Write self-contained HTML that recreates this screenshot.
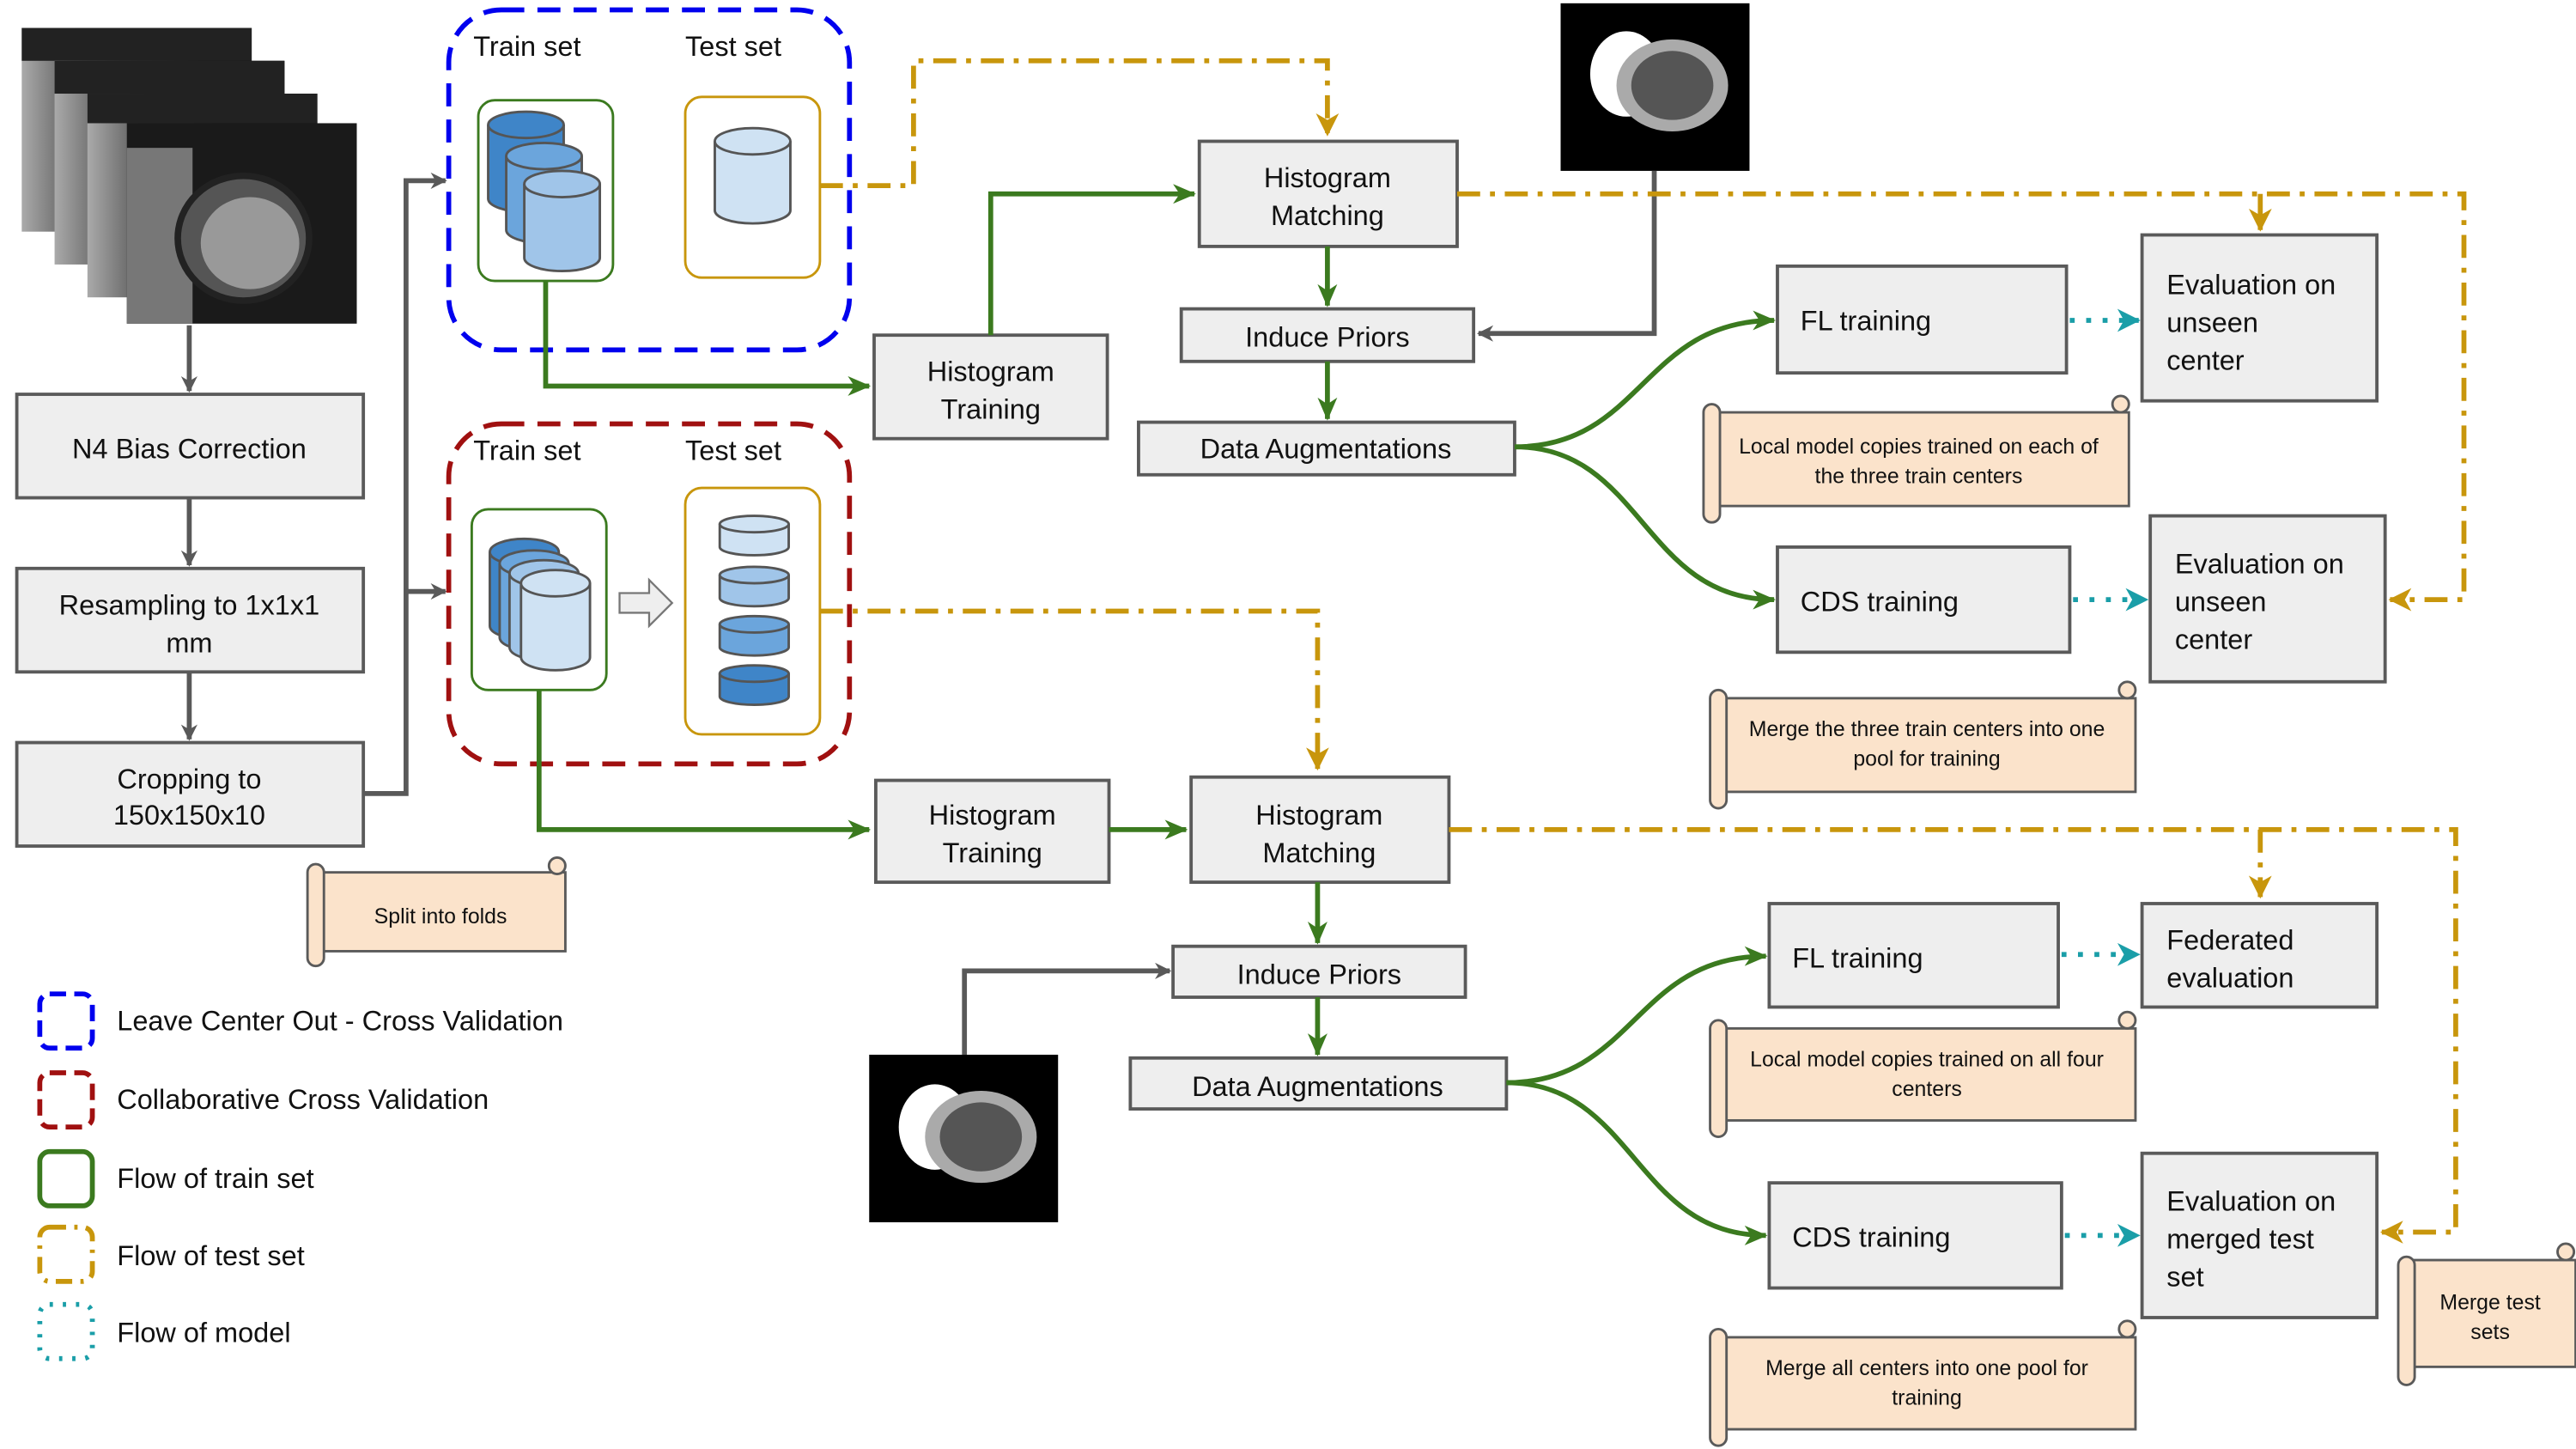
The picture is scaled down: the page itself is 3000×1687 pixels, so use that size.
<!DOCTYPE html>
<html><head><meta charset="utf-8"><style>
html,body{margin:0;padding:0;background:#fff;}
svg{display:block;}
text{font-family:"Liberation Sans",sans-serif;fill:#111;}
</style></head><body>
<svg width="3000" height="1687" viewBox="0 0 1568 882" xmlns="http://www.w3.org/2000/svg">
<defs>
<marker id="ag" markerWidth="10" markerHeight="10" refX="9" refY="5" orient="auto" markerUnits="userSpaceOnUse"><path d="M0,0 L10,5 L0,10 L3,5Z" fill="#595959"/></marker>
<marker id="agr" markerWidth="14" markerHeight="12" refX="13" refY="6" orient="auto" markerUnits="userSpaceOnUse"><path d="M0,0 L14,6 L0,12 L4,6Z" fill="#3b7a1f"/></marker>
<marker id="ay" markerWidth="14" markerHeight="14" refX="13" refY="7" orient="auto" markerUnits="userSpaceOnUse"><path d="M0,0 L14,7 L0,14 L4,7Z" fill="#c8960c"/></marker>
<marker id="at" markerWidth="14" markerHeight="14" refX="13" refY="7" orient="auto" markerUnits="userSpaceOnUse"><path d="M0,0 L14,7 L0,14 L4,7Z" fill="#1a9ea8"/></marker>
<linearGradient id="mri" x1="0" y1="0" x2="1" y2="0"><stop offset="0" stop-color="#aaa"/><stop offset="0.25" stop-color="#555"/><stop offset="0.6" stop-color="#222"/><stop offset="1" stop-color="#111"/></linearGradient>
</defs>
<style>
.box{fill:#eeeeee;stroke:#5a5a5a;stroke-width:2;}
.bt{font-size:17px;text-anchor:middle;}
.lt{font-size:17px;}
.nt{font-size:13px;text-anchor:middle;}
.g{stroke:#595959;stroke-width:3;fill:none;}
.gr{stroke:#3b7a1f;stroke-width:3;fill:none;}
.y{stroke:#c8960c;stroke-width:3;fill:none;stroke-dasharray:14,6,3,6;}
.t{stroke:#1a9ea8;stroke-width:3;fill:none;stroke-dasharray:3,7;}
.sc{fill:#fbe3cb;stroke:#5a5a5a;stroke-width:1.5;}
.cyl{stroke:#555;stroke-width:1.5;}
</style>

<!-- MRI stack -->
<rect x="13" y="17" width="140" height="124" fill="url(#mri)"/>
<rect x="13" y="17" width="140" height="20" fill="#222"/>
<rect x="33" y="37" width="140" height="124" fill="url(#mri)"/>
<rect x="33" y="37" width="140" height="20" fill="#222"/>
<rect x="53" y="57" width="140" height="124" fill="url(#mri)"/>
<rect x="53" y="57" width="140" height="18" fill="#222"/>
<rect x="77" y="75" width="140" height="122" fill="#1a1a1a"/>
<rect x="77" y="90" width="40" height="107" fill="#777"/>
<ellipse cx="148" cy="145" rx="40" ry="38" fill="#555" stroke="#222" stroke-width="4"/>
<ellipse cx="152" cy="148" rx="30" ry="28" fill="#999"/>

<!-- left column -->
<rect class="box" x="10" y="240" width="211" height="63"/><text class="bt" x="115" y="279">N4 Bias Correction</text>
<rect class="box" x="10" y="346" width="211" height="63"/><text class="bt" x="115" y="374">Resampling to 1x1x1</text><text class="bt" x="115" y="397">mm</text>
<rect class="box" x="10" y="452" width="211" height="63"/><text class="bt" x="115" y="480">Cropping to</text><text class="bt" x="115" y="502">150x150x10</text>
<line class="g" x1="115" y1="198" x2="115" y2="238" marker-end="url(#ag)"/>
<line class="g" x1="115" y1="303" x2="115" y2="344" marker-end="url(#ag)"/>
<line class="g" x1="115" y1="409" x2="115" y2="450" marker-end="url(#ag)"/>
<polyline class="g" points="221,483 247,483 247,110 271,110" marker-end="url(#ag)"/>
<line class="g" x1="247" y1="360" x2="271" y2="360" marker-end="url(#ag)"/>

<!-- Blue group -->
<rect x="273" y="6" width="244" height="207" rx="32" fill="none" stroke="#0000ee" stroke-width="3" stroke-dasharray="14,8"/>
<text class="lt" x="288" y="34">Train set</text><text class="lt" x="417" y="34">Test set</text>
<rect x="291" y="61" width="82" height="110" rx="10" fill="#fff" stroke="#3b7a1f" stroke-width="1.5"/>
<g class="cyl">
<path d="M297,76 v45 a23,8 0 0 0 46,0 v-45" fill="#3f85c8"/><ellipse cx="320" cy="76" rx="23" ry="8" fill="#3f85c8"/>
<path d="M308,95 v45 a23,8 0 0 0 46,0 v-45" fill="#6ba5dc"/><ellipse cx="331" cy="95" rx="23" ry="8" fill="#6ba5dc"/>
<path d="M319,112 v45 a23,8 0 0 0 46,0 v-45" fill="#a0c5e9"/><ellipse cx="342" cy="112" rx="23" ry="8" fill="#a0c5e9"/>
</g>
<rect x="417" y="59" width="82" height="110" rx="10" fill="#fff" stroke="#c8960c" stroke-width="1.5"/>
<g class="cyl"><path d="M435,86 v42 a23,8 0 0 0 46,0 v-42" fill="#cfe2f3"/><ellipse cx="458" cy="86" rx="23" ry="8" fill="#cfe2f3"/></g>

<!-- Red group -->
<rect x="273" y="258" width="244" height="207" rx="32" fill="none" stroke="#a01010" stroke-width="3" stroke-dasharray="14,8"/>
<text class="lt" x="288" y="280">Train set</text><text class="lt" x="417" y="280">Test set</text>
<rect x="287" y="310" width="82" height="110" rx="10" fill="#fff" stroke="#3b7a1f" stroke-width="1.5"/>
<g class="cyl">
<path d="M298,336 v45 a21,8 0 0 0 42,0 v-45" fill="#3f85c8"/><ellipse cx="319" cy="336" rx="21" ry="8" fill="#3f85c8"/>
<path d="M304,343 v45 a21,8 0 0 0 42,0 v-45" fill="#6ba5dc"/><ellipse cx="325" cy="343" rx="21" ry="8" fill="#6ba5dc"/>
<path d="M310,349 v45 a21,8 0 0 0 42,0 v-45" fill="#a0c5e9"/><ellipse cx="331" cy="349" rx="21" ry="8" fill="#a0c5e9"/>
<path d="M317,355 v45 a21,8 0 0 0 42,0 v-45" fill="#cfe2f3"/><ellipse cx="338" cy="355" rx="21" ry="8" fill="#cfe2f3"/>
</g>
<path d="M377,361 h18 v-8 l14,14 l-14,14 v-8 h-18z" fill="#eee" stroke="#777" stroke-width="1.2"/>
<rect x="417" y="297" width="82" height="150" rx="10" fill="#fff" stroke="#c8960c" stroke-width="1.5"/>
<g class="cyl">
<path d="M438,319 v14 a21,5 0 0 0 42,0 v-14" fill="#cfe2f3"/><ellipse cx="459" cy="319" rx="21" ry="5" fill="#cfe2f3"/>
<path d="M438,350 v14 a21,5 0 0 0 42,0 v-14" fill="#a0c5e9"/><ellipse cx="459" cy="350" rx="21" ry="5" fill="#a0c5e9"/>
<path d="M438,380 v14 a21,5 0 0 0 42,0 v-14" fill="#6ba5dc"/><ellipse cx="459" cy="380" rx="21" ry="5" fill="#6ba5dc"/>
<path d="M438,410 v14 a21,5 0 0 0 42,0 v-14" fill="#3f85c8"/><ellipse cx="459" cy="410" rx="21" ry="5" fill="#3f85c8"/>
</g>

<!-- Top pipeline -->
<polyline class="gr" points="332,171 332,235 529,235" marker-end="url(#agr)"/>
<rect class="box" x="532" y="204" width="142" height="63"/><text class="bt" x="603" y="232">Histogram</text><text class="bt" x="603" y="255">Training</text>
<polyline class="gr" points="603,204 603,118 727,118" marker-end="url(#agr)"/>
<rect class="box" x="730" y="86" width="157" height="64"/><text class="bt" x="808" y="114">Histogram</text><text class="bt" x="808" y="137">Matching</text>
<line class="gr" x1="808" y1="150" x2="808" y2="186" marker-end="url(#agr)"/>
<rect class="box" x="719" y="188" width="178" height="32"/><text class="bt" x="808" y="211">Induce Priors</text>
<line class="gr" x1="808" y1="220" x2="808" y2="255" marker-end="url(#agr)"/>
<rect class="box" x="693" y="257" width="229" height="32"/><text class="bt" x="807" y="279">Data Augmentations</text>
<rect x="950" y="2" width="115" height="102" fill="#000"/>
<ellipse cx="990" cy="45" rx="22" ry="26" fill="#fff"/>
<ellipse cx="1018" cy="52" rx="34" ry="28" fill="#aaa"/>
<ellipse cx="1018" cy="52" rx="25" ry="21" fill="#555"/>
<polyline class="g" points="1007,104 1007,203 900,203" marker-end="url(#ag)"/>
<polyline class="y" points="499,113 556,113 556,37 808,37 808,82" marker-end="url(#ay)"/>
<polyline class="y" points="887,118 1500,118 1500,365 1455,365" marker-end="url(#ay)"/>
<line class="y" x1="1376" y1="118" x2="1376" y2="140" marker-end="url(#ay)"/>
<path class="gr" d="M922,272 C1000,272 1000,195 1080,195" marker-end="url(#agr)"/>
<path class="gr" d="M922,272 C1000,272 1000,365 1080,365" marker-end="url(#agr)"/>
<rect class="box" x="1082" y="162" width="176" height="65"/><text class="lt" x="1096" y="201">FL training</text>
<rect class="box" x="1304" y="143" width="143" height="101"/><text class="lt" x="1319" y="179">Evaluation on</text><text class="lt" x="1319" y="202">unseen</text><text class="lt" x="1319" y="225">center</text>
<line class="t" x1="1260" y1="195" x2="1302" y2="195" marker-end="url(#at)"/>
<rect class="box" x="1082" y="333" width="178" height="64"/><text class="lt" x="1096" y="372">CDS training</text>
<rect class="box" x="1309" y="314" width="143" height="101"/><text class="lt" x="1324" y="349">Evaluation on</text><text class="lt" x="1324" y="372">unseen</text><text class="lt" x="1324" y="395">center</text>
<line class="t" x1="1262" y1="365" x2="1307" y2="365" marker-end="url(#at)"/>

<!-- scrolls -->
<g>
<rect class="sc" x="1042" y="251" width="254" height="57"/><path class="sc" d="M1037,251 a5,5 0 0 1 10,0 v62 a5,5 0 0 1 -10,0z"/><circle class="sc" cx="1291" cy="246" r="5"/>
<text class="nt" x="1168" y="276">Local model copies trained on each of</text><text class="nt" x="1168" y="294">the three train centers</text>
</g>
<g>
<rect class="sc" x="1046" y="425" width="254" height="57"/><path class="sc" d="M1041,425 a5,5 0 0 1 10,0 v62 a5,5 0 0 1 -10,0z"/><circle class="sc" cx="1295" cy="420" r="5"/>
<text class="nt" x="1173" y="448">Merge the three train centers into one</text><text class="nt" x="1173" y="466">pool for training</text>
</g>
<g>
<rect class="sc" x="192" y="531" width="152" height="48"/><path class="sc" d="M187,531 a5,5 0 0 1 10,0 v52 a5,5 0 0 1 -10,0z"/><circle class="sc" cx="339" cy="527" r="5"/>
<text class="nt" x="268" y="562">Split into folds</text>
</g>
<g>
<rect class="sc" x="1046" y="626" width="254" height="56"/><path class="sc" d="M1041,626 a5,5 0 0 1 10,0 v61 a5,5 0 0 1 -10,0z"/><circle class="sc" cx="1295" cy="621" r="5"/>
<text class="nt" x="1173" y="649">Local model copies  trained on all four</text><text class="nt" x="1173" y="667">centers</text>
</g>
<g>
<rect class="sc" x="1046" y="814" width="254" height="56"/><path class="sc" d="M1041,814 a5,5 0 0 1 10,0 v61 a5,5 0 0 1 -10,0z"/><circle class="sc" cx="1295" cy="809" r="5"/>
<text class="nt" x="1173" y="837">Merge all centers into one pool for</text><text class="nt" x="1173" y="855">training</text>
</g>
<g>
<rect class="sc" x="1465" y="767" width="103" height="65"/><path class="sc" d="M1460,770 a5,5 0 0 1 10,0 v68 a5,5 0 0 1 -10,0z"/><circle class="sc" cx="1562" cy="762" r="5"/>
<text class="nt" x="1516" y="797">Merge test</text><text class="nt" x="1516" y="815">sets</text>
</g>

<!-- Bottom pipeline -->
<polyline class="gr" points="328,420 328,505 529,505" marker-end="url(#agr)"/>
<rect class="box" x="533" y="475" width="142" height="62"/><text class="bt" x="604" y="502">Histogram</text><text class="bt" x="604" y="525">Training</text>
<line class="gr" x1="675" y1="505" x2="722" y2="505" marker-end="url(#agr)"/>
<rect class="box" x="725" y="473" width="157" height="64"/><text class="bt" x="803" y="502">Histogram</text><text class="bt" x="803" y="525">Matching</text>
<polyline class="y" points="499,372 802,372 802,468" marker-end="url(#ay)"/>
<line class="gr" x1="802" y1="537" x2="802" y2="574" marker-end="url(#agr)"/>
<rect class="box" x="714" y="576" width="178" height="31"/><text class="bt" x="803" y="599">Induce Priors</text>
<line class="gr" x1="802" y1="607" x2="802" y2="642" marker-end="url(#agr)"/>
<rect class="box" x="688" y="644" width="229" height="31"/><text class="bt" x="802" y="667">Data Augmentations</text>
<rect x="529" y="642" width="115" height="102" fill="#000"/>
<ellipse cx="569" cy="686" rx="22" ry="26" fill="#fff"/>
<ellipse cx="597" cy="692" rx="34" ry="28" fill="#aaa"/>
<ellipse cx="597" cy="692" rx="25" ry="21" fill="#555"/>
<polyline class="g" points="587,642 587,591 712,591" marker-end="url(#ag)"/>
<polyline class="y" points="882,505 1495,505 1495,750 1450,750" marker-end="url(#ay)"/>
<line class="y" x1="1376" y1="505" x2="1376" y2="546" marker-end="url(#ay)"/>
<path class="gr" d="M917,659 C995,659 995,582 1075,582" marker-end="url(#agr)"/>
<path class="gr" d="M917,659 C995,659 995,752 1075,752" marker-end="url(#agr)"/>
<rect class="box" x="1077" y="550" width="176" height="63"/><text class="lt" x="1091" y="589">FL training</text>
<rect class="box" x="1304" y="550" width="143" height="63"/><text class="lt" x="1319" y="578">Federated</text><text class="lt" x="1319" y="601">evaluation</text>
<line class="t" x1="1255" y1="581" x2="1302" y2="581" marker-end="url(#at)"/>
<rect class="box" x="1077" y="720" width="178" height="64"/><text class="lt" x="1091" y="759">CDS training</text>
<rect class="box" x="1304" y="702" width="143" height="100"/><text class="lt" x="1319" y="737">Evaluation on</text><text class="lt" x="1319" y="760">merged test</text><text class="lt" x="1319" y="783">set</text>
<line class="t" x1="1257" y1="752" x2="1302" y2="752" marker-end="url(#at)"/>

<!-- Legend -->
<rect x="24" y="605" width="32" height="33" rx="6" fill="none" stroke="#0000ee" stroke-width="3" stroke-dasharray="10,5"/><text class="lt" x="71" y="627">Leave Center Out - Cross Validation</text>
<rect x="24" y="653" width="32" height="33" rx="6" fill="none" stroke="#a01010" stroke-width="3" stroke-dasharray="10,5"/><text class="lt" x="71" y="675">Collaborative Cross Validation</text>
<rect x="24" y="701" width="32" height="33" rx="6" fill="none" stroke="#3b7a1f" stroke-width="3"/><text class="lt" x="71" y="723">Flow of train set</text>
<rect x="24" y="747" width="32" height="33" rx="6" fill="none" stroke="#c8960c" stroke-width="3" stroke-dasharray="10,5,2,5"/><text class="lt" x="71" y="770">Flow of test set</text>
<rect x="24" y="794" width="32" height="33" rx="6" fill="none" stroke="#1a9ea8" stroke-width="3" stroke-dasharray="2,6"/><text class="lt" x="71" y="817">Flow of model</text>
</svg>
</body></html>
